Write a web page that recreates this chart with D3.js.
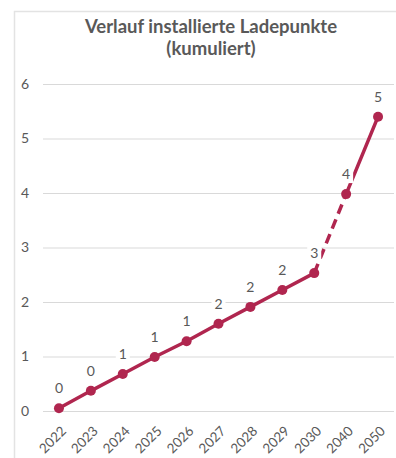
<!DOCTYPE html>
<html>
<head>
<meta charset="utf-8">
<script src="https://cdn.jsdelivr.net/npm/d3@7"></script>
<style>
  html, body { margin: 0; padding: 0; background: #fff; }
  svg { display: block; }
  text { font-family: Lato, "Open Sans", sans-serif; }
</style>
</head>
<body>
<svg id="chart" width="396" height="458"></svg>
<script>
const titleLines = ["Verlauf installierte Ladepunkte", "(kumuliert)"];
const years = ["2022","2023","2024","2025","2026","2027","2028","2029","2030","2040","2050"];
const values = [0.05, 0.37, 0.68, 0.99, 1.28, 1.60, 1.91, 2.22, 2.53, 3.98, 5.40];
const labels = ["0","0","1","1","1","2","2","2","3","4","5"];
const yTicks = [0, 1, 2, 3, 4, 5, 6];
// segment styles: index of segment start -> dashed?
const dashedSegments = [8]; // 2030 -> 2040

const svg = d3.select("#chart");
const color = "#B0264F";
const textColor = "#595959";

// chart frame (left and top borders visible)
svg.append("path")
  .attr("d", "M14.5,460 V11.5 H400")
  .attr("fill", "none").attr("stroke", "#e3e3e3").attr("stroke-width", 1.5);

// title
svg.append("text").attr("x", 211).attr("y", 33).attr("text-anchor", "middle")
  .attr("font-size", 18.5).attr("font-weight", "bold").attr("fill", textColor)
  .text(titleLines[0]);
svg.append("text").attr("x", 211).attr("y", 55).attr("text-anchor", "middle")
  .attr("font-size", 18.5).attr("font-weight", "bold").attr("fill", textColor)
  .text(titleLines[1]);

const x = d3.scaleBand().domain(years).range([43, 394]);
const y = d3.scaleLinear().domain([0, 6]).range([411, 84]);

// gridlines
const yAxis = d3.axisLeft(y).tickValues(yTicks).tickSize(-(394 - 43)).tickPadding(14).tickFormat(d3.format("d"));
const gy = svg.append("g").attr("transform", "translate(43,0)").call(yAxis);
gy.select(".domain").remove();
gy.selectAll(".tick line").attr("stroke", "#d9d9d9").attr("stroke-width", 1);
gy.selectAll(".tick text").attr("fill", textColor).attr("font-size", 14)
  .attr("font-family", "Lato, 'Open Sans', sans-serif");

// x axis labels
const xAxis = d3.axisBottom(x).tickSize(0).tickPadding(0);
const gx = svg.append("g").attr("transform", "translate(0,411)").call(xAxis);
gx.select(".domain").remove();
gx.selectAll(".tick text")
  .attr("fill", textColor).attr("font-size", 13.5)
  .attr("font-family", "Lato, 'Open Sans', sans-serif")
  .attr("text-anchor", "end")
  .attr("dy", null)
  .attr("transform", "translate(8,21) rotate(-45)");

const cx = d => x(d) + x.bandwidth() / 2;

// line segments
const pts = years.map((yr, i) => [cx(yr), y(values[i])]);
for (let i = 0; i < pts.length - 1; i++) {
  const dashed = dashedSegments.includes(i);
  svg.append("path")
    .attr("d", d3.line()([pts[i], pts[i + 1]]))
    .attr("fill", "none").attr("stroke", color).attr("stroke-width", 3.5)
    .attr("stroke-linecap", dashed ? "butt" : "round")
    .attr("stroke-dasharray", dashed ? "10,6" : null);
}

// markers
svg.append("g").selectAll("circle").data(pts).join("circle")
  .attr("cx", d => d[0]).attr("cy", d => d[1]).attr("r", 5)
  .attr("fill", color);

// data labels with white backgrounds
const lg = svg.append("g");
pts.forEach((p, i) => {
  const g = lg.append("g").attr("transform", `translate(${p[0]},${p[1] - 20})`);
  g.append("rect").attr("x", -7).attr("y", -9).attr("width", 14).attr("height", 18).attr("fill", "#fff");
  g.append("text").attr("text-anchor", "middle").attr("dy", "0.36em")
    .attr("font-size", 14).attr("fill", textColor).text(labels[i]);
});
</script>
</body>
</html>
